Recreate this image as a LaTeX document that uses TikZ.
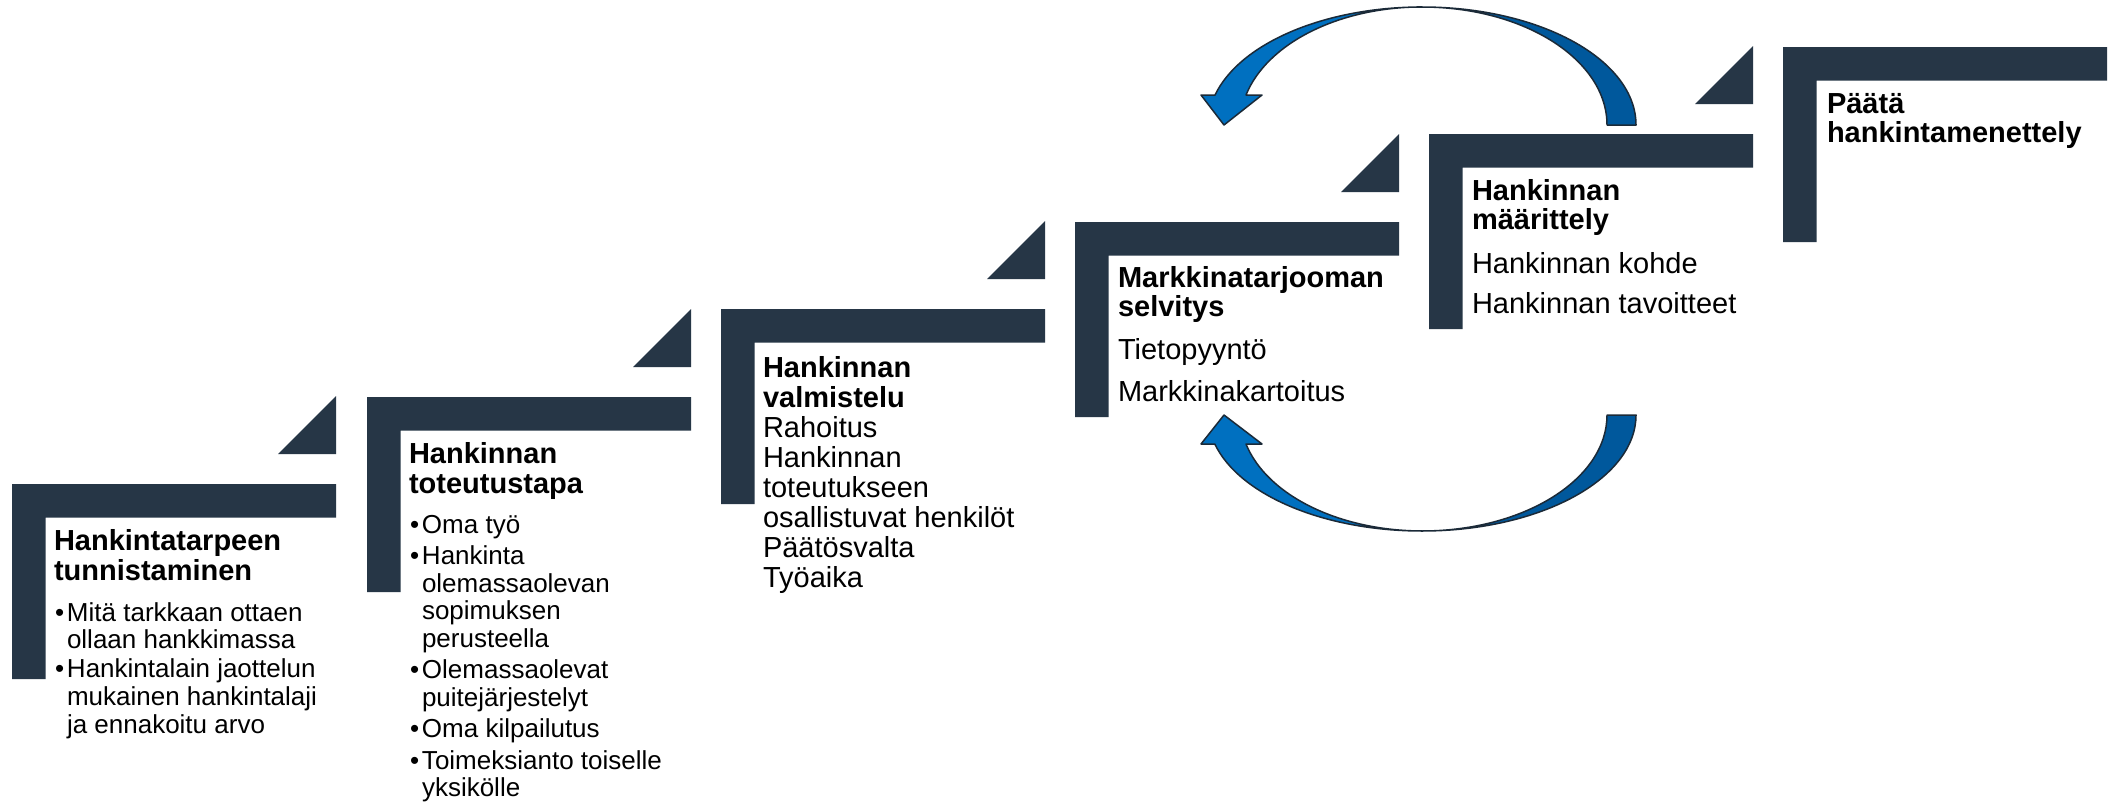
\documentclass[tikz,border=0pt]{standalone}
\usepackage{fontspec}
\setmainfont{Liberation Sans}
\definecolor{navy}{HTML}{263646}
\definecolor{arrowlight}{HTML}{0070C0}
\definecolor{arrowdark}{HTML}{00589C}
\definecolor{arrowline}{HTML}{1B2A38}
% L-shaped bracket: x0, y0 (pixels, y measured downward)
\newcommand\Lbar[2]{%
  \fill[navy] (#1,-#2) -- ++(324,0) -- ++(0,-33.5) -- ++(-290.5,0) -- ++(0,-161.5) -- ++(-33.5,0) -- cycle;}
% triangle above the L whose corner is x0,y0
\newcommand\Ltri[2]{%
  \fill[navy] (#1+266,-#2+30) -- ++(58,0) -- ++(0,58) -- cycle;}
\newcommand\TL[1]{\hbox{\fontsize{29}{30}\selectfont\bfseries #1}}
\newcommand\BL[1]{\hbox{\fontsize{29}{30}\selectfont #1}}
\newcommand\BU[1]{\hbox{\fontsize{26}{28}\selectfont\hbox to 13pt{\kern1pt•\hss}#1}}
\newcommand\BC[1]{\hbox{\fontsize{26}{28}\selectfont\kern13pt #1}}
\tikzset{
  steptext/.style={anchor=base west, inner sep=0pt, outer sep=0pt},
  blockarrow/.style={draw=arrowline, line width=1.5pt, line join=round},
}
\begin{document}
\begin{tikzpicture}[x=1pt,y=1pt]
\useasboundingbox (0,0) rectangle (2110,-806);
\fill[white] (0,0) rectangle (2110,-806);

% brackets and triangles
\Lbar{12}{484}   \Ltri{12}{484}
\Lbar{367}{397}  \Ltri{367}{397}
\Lbar{721}{309}  \Ltri{721}{309}
\Lbar{1075}{222} \Ltri{1075}{222}
\Lbar{1429}{134} \Ltri{1429}{134}
\Lbar{1783}{47}

% texts
\node[steptext] (s1) at (54,-550) {\vtop{\lineskiplimit=-1000pt\baselineskip=30pt
  \TL{Hankintatarpeen}\TL{tunnistaminen}
  \baselineskip=27.8pt\vskip13.2pt
  \BU{Mitä tarkkaan ottaen}\BC{ollaan hankkimassa}\vskip1pt
  \BU{Hankintalain jaottelun}\BC{mukainen hankintalaji}\BC{ja ennakoitu arvo}}};

\node[steptext] (s2) at (409,-463) {\vtop{\lineskiplimit=-1000pt\baselineskip=30pt
  \TL{Hankinnan}\TL{toteutustapa}
  \baselineskip=27.5pt\vskip12.5pt
  \BU{Oma työ}\vskip4pt
  \BU{Hankinta}\BC{olemassaolevan}\BC{sopimuksen}\BC{perusteella}\vskip4pt
  \BU{Olemassaolevat}\BC{puitejärjestelyt}\vskip4pt
  \BU{Oma kilpailutus}\vskip4pt
  \BU{Toimeksianto toiselle}\BC{yksikölle}}};

\node[steptext] (s3) at (763,-377) {\vtop{\lineskiplimit=-1000pt\baselineskip=30pt
  \TL{Hankinnan}\TL{valmistelu}
  \BL{Rahoitus}\BL{Hankinnan}\BL{toteutukseen}\BL{osallistuvat henkilöt}
  \BL{Päätösvalta}\BL{Työaika}}};

\node[steptext] (s4) at (1118,-287) {\vtop{\lineskiplimit=-1000pt\baselineskip=29.5pt
  \TL{Markkinatarjooman}\TL{selvitys}\vskip13.5pt
  \BL{Tietopyyntö}\baselineskip=42pt\BL{Markkinakartoitus}}};

\node[steptext] (s5) at (1472,-200) {\vtop{\lineskiplimit=-1000pt\baselineskip=29.5pt
  \TL{Hankinnan}\TL{määrittely}\vskip14.5pt
  \BL{Hankinnan kohde}\baselineskip=40pt\BL{Hankinnan tavoitteet}}};

\node[steptext] (s6) at (1827,-113) {\vtop{\lineskiplimit=-1000pt\baselineskip=29.5pt
  \TL{Päätä}\TL{hankintamenettely}}};

% top curved arrow (from step 5 back to step 4)
\filldraw[blockarrow, fill=arrowdark] (1422,-7)
  arc[start angle=90, end angle=0, x radius=214pt, y radius=118pt]
  -- (1607,-125)
  arc[start angle=0, end angle=90, x radius=185pt, y radius=118pt] -- cycle;
\filldraw[blockarrow, fill=arrowlight] (1422,-7)
  arc[start angle=90, end angle=165.3, x radius=214pt, y radius=118pt]
  -- (1201,-95) -- (1224,-125) -- (1262,-95) -- (1246,-95)
  arc[start angle=165.3, end angle=90, x radius=182pt, y radius=118pt] -- cycle;

% bottom curved arrow
\filldraw[blockarrow, fill=arrowdark] (1422,-531)
  arc[start angle=270, end angle=360, x radius=214pt, y radius=116pt]
  -- (1607,-415)
  arc[start angle=360, end angle=270, x radius=185pt, y radius=116pt] -- cycle;
\filldraw[blockarrow, fill=arrowlight] (1422,-531)
  arc[start angle=270, end angle=194.5, x radius=214pt, y radius=116pt]
  -- (1201,-444) -- (1224,-415) -- (1262,-444) -- (1246,-444)
  arc[start angle=194.5, end angle=270, x radius=182pt, y radius=116pt] -- cycle;
\end{tikzpicture}
\end{document}
